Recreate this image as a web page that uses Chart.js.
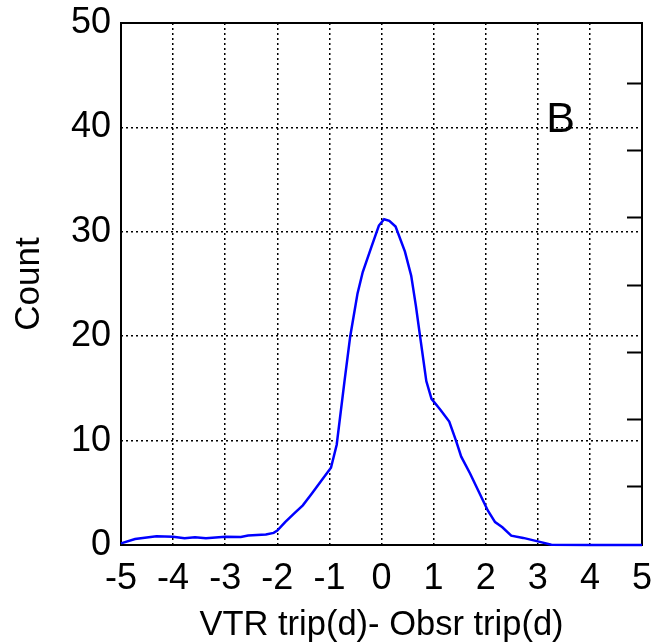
<!DOCTYPE html>
<html>
<head>
<meta charset="utf-8">
<script src="https://cdn.jsdelivr.net/npm/chart.js@4"></script>
<style>
  html, body { margin: 0; padding: 0; background: #fff; }
  #wrap { width: 654px; height: 642px; }
</style>
</head>
<body>
<div id="wrap"><canvas id="c" width="654" height="642"></canvas></div>
<script>
// Difference between VTR and observed trip duration (days)
const diffDays = [-5, -4.73, -4.32, -4, -3.78, -3.58, -3.37, -3, -2.7, -2.56, -2.22, -2.07, -2,
  -1.85, -1.68, -1.51, -1.34, -1.17, -0.97, -0.86, -0.71, -0.6, -0.46, -0.36, -0.19, -0.05,
  0.05, 0.15, 0.27, 0.45, 0.57, 0.66, 0.74, 0.86, 0.96, 1.13, 1.3, 1.43, 1.53, 1.7, 1.87,
  2.04, 2.18, 2.32, 2.49, 2.72, 3, 3.26, 4, 5];
const counts = [0.16, 0.58, 0.84, 0.8, 0.64, 0.74, 0.64, 0.8, 0.77, 0.9, 1.0, 1.16, 1.38,
  2.19, 3.0, 3.8, 4.9, 6.05, 7.4, 9.6, 15.7, 20, 24.1, 26.15, 28.6, 30.6,
  31.2, 31.05, 30.5, 28.1, 25.8, 22.9, 20, 15.7, 14.0, 12.96, 11.83, 10, 8.46, 6.85, 5.08,
  3.31, 2.19, 1.7, 0.9, 0.68, 0.35, 0.03, 0, 0];

const xTicks = [-5, -4, -3, -2, -1, 0, 1, 2, 3, 4, 5];
const yTicks = [0, 10, 20, 30, 40, 50];
// unlabelled ticks on the right-hand axis
const rightTicks = [1, 2, 3, 4, 5, 6, 7];
const rightRange = [0.115, 7.9];

const FONT = "'Liberation Sans', Arial, sans-serif";

// frame + inward ticks of the right axis, drawn under the curve
const framePlugin = {
  id: "frame",
  beforeDatasetsDraw(chart) {
    const { ctx, chartArea: a } = chart;
    const y2 = chart.scales.y2;
    ctx.save();
    ctx.strokeStyle = "#000";
    ctx.lineWidth = 2;
    ctx.strokeRect(a.left, a.top, a.right - a.left, a.bottom - a.top);
    ctx.beginPath();
    rightTicks.forEach((t) => {
      const py = Math.round(y2.getPixelForValue(t)) + 0.5;
      ctx.moveTo(a.right, py);
      ctx.lineTo(a.right - 15, py);
    });
    ctx.stroke();
    ctx.restore();
  },
  afterDraw(chart) {
    const { ctx } = chart;
    ctx.save();
    ctx.fillStyle = "#000";
    ctx.font = "43px " + FONT;
    ctx.textAlign = "left";
    ctx.textBaseline = "alphabetic";
    ctx.fillText("B", chart.scales.x.getPixelForValue(3.16), chart.scales.y.getPixelForValue(39.6));
    ctx.restore();
  },
};

// let layout.padding alone decide the plot edges
function noEdgePadding(s) {
  s.paddingLeft = 0;
  s.paddingRight = 0;
  s.paddingTop = 0;
  s.paddingBottom = 0;
}

new Chart(document.getElementById("c"), {
  type: "line",
  data: {
    datasets: [
      {
        data: diffDays.map((d, i) => ({ x: d, y: counts[i] })),
        borderColor: "#0000ff",
        borderWidth: 2.5,
        pointRadius: 0,
        tension: 0,
        fill: false,
        clip: 4,
      },
    ],
  },
  options: {
    responsive: false,
    animation: false,
    events: [],
    layout: { padding: { top: 23, right: 12, left: 0, bottom: 0 } },
    plugins: { legend: { display: false }, tooltip: { enabled: false } },
    scales: {
      x: {
        type: "linear",
        min: -5,
        max: 5,
        afterBuildTicks: (s) => { s.ticks = xTicks.map((v) => ({ value: v })); },
        afterFit: (s) => { s.height = 97; noEdgePadding(s); },
        grid: { color: "#000", lineWidth: 1.5, drawTicks: false },
        border: { display: false, dash: [2, 3] },
        ticks: { color: "#000", font: { family: FONT, size: 36 }, padding: 12, maxRotation: 0 },
        title: {
          display: true,
          text: "VTR trip(d)- Obsr trip(d)",
          color: "#000",
          font: { family: FONT, size: 34.5, lineHeight: 0.95 },
          padding: { top: 0, bottom: 0 },
        },
      },
      y: {
        min: 0,
        max: 50,
        afterBuildTicks: (s) => { s.ticks = yTicks.map((v) => ({ value: v })); },
        afterFit: (s) => { s.width = 121; noEdgePadding(s); },
        grid: { color: "#000", lineWidth: 1.5, drawTicks: false },
        border: { display: false, dash: [2, 3] },
        ticks: { color: "#000", font: { family: FONT, size: 36 }, padding: 10 },
        title: {
          display: true,
          text: "Count",
          color: "#000",
          font: { family: FONT, size: 35 },
          padding: { top: 8, bottom: 0 },
        },
      },
      y2: {
        position: "right",
        min: rightRange[0],
        max: rightRange[1],
        afterFit: (s) => { s.width = 0; noEdgePadding(s); },
        grid: { display: false },
        border: { display: false },
        ticks: { display: false },
      },
    },
  },
  plugins: [framePlugin],
});
</script>
</body>
</html>
